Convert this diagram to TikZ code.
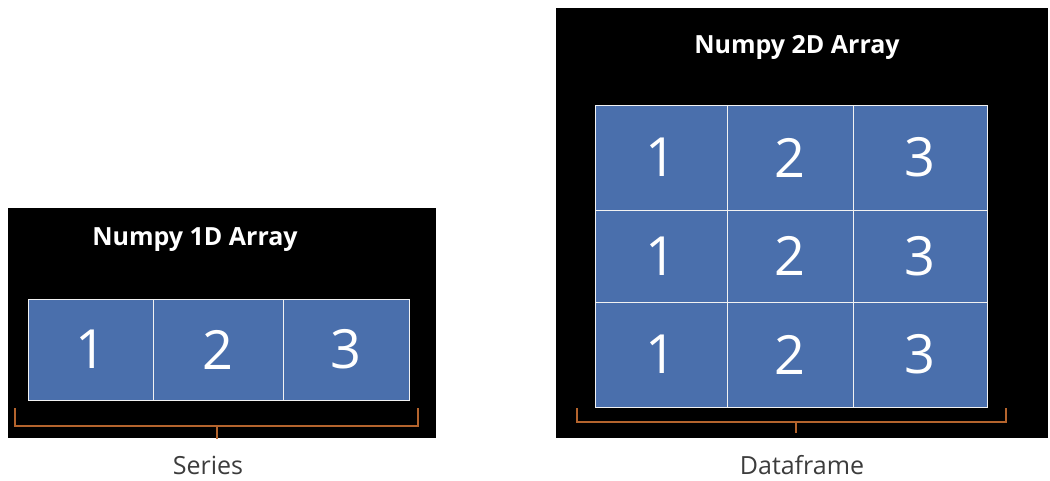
\documentclass[tikz,border=0pt]{standalone}
\usepackage{fontspec}
\setmainfont{Open Sans}
\definecolor{cellblue}{RGB}{74,111,172}
\definecolor{brk}{RGB}{180,100,45}
\definecolor{labgray}{RGB}{60,60,60}
\begin{document}
\begin{tikzpicture}[x=1pt,y=-1pt,
  panel/.style={fill=black,draw=none},
  cell/.style={draw=white!90!gray,line width=1pt,fill=cellblue,text=white,inner sep=0pt,
    font=\fontsize{54}{54}\selectfont},
  title/.style={text=white,font=\bfseries\fontsize{25}{25}\selectfont,inner sep=0pt},
  lab/.style={text=labgray,font=\fontsize{25}{25}\selectfont,inner sep=0pt},
  bracket/.style={draw=brk,line width=1.3pt}]
\useasboundingbox (0,0) rectangle (1050,480);
% left panel
\fill[panel] (8,208) rectangle (436,438);
\node[title] (t1) at (195,240) {Numpy 1D Array};
\foreach \i/\xa/\xb in {1/28/153,2/153/283,3/283/409}{
  \node[cell,minimum width={\xb-\xa},minimum height=101] (s\i) at ({(\xa+\xb)/2},349.5) {\i};
}
\draw[bracket] (15,408) -- (15,426) -- (418,426) -- (418,408);
\draw[bracket] (217,426) -- (217,439);
\node[lab] (series) at (208,465) {Series};
% right panel
\fill[panel] (556,8) rectangle (1048,438);
\node[title] (t2) at (797,47) {Numpy 2D Array};
\foreach \r/\ya/\yb in {1/105/210,2/210/302,3/302/407}{
  \foreach \c/\xa/\xb in {1/595/727,2/727/853,3/853/987}{
    \node[cell,minimum width={\xb-\xa},minimum height={\yb-\ya}] (d\r\c) at ({(\xa+\xb)/2},{(\ya+\yb)/2}) {\c};
  }
}
\draw[bracket] (577,408) -- (577,422) -- (1006,422) -- (1006,408);
\draw[bracket] (796,422) -- (796,433);
\node[lab] (df) at (802,465) {Dataframe};
\end{tikzpicture}
\end{document}
